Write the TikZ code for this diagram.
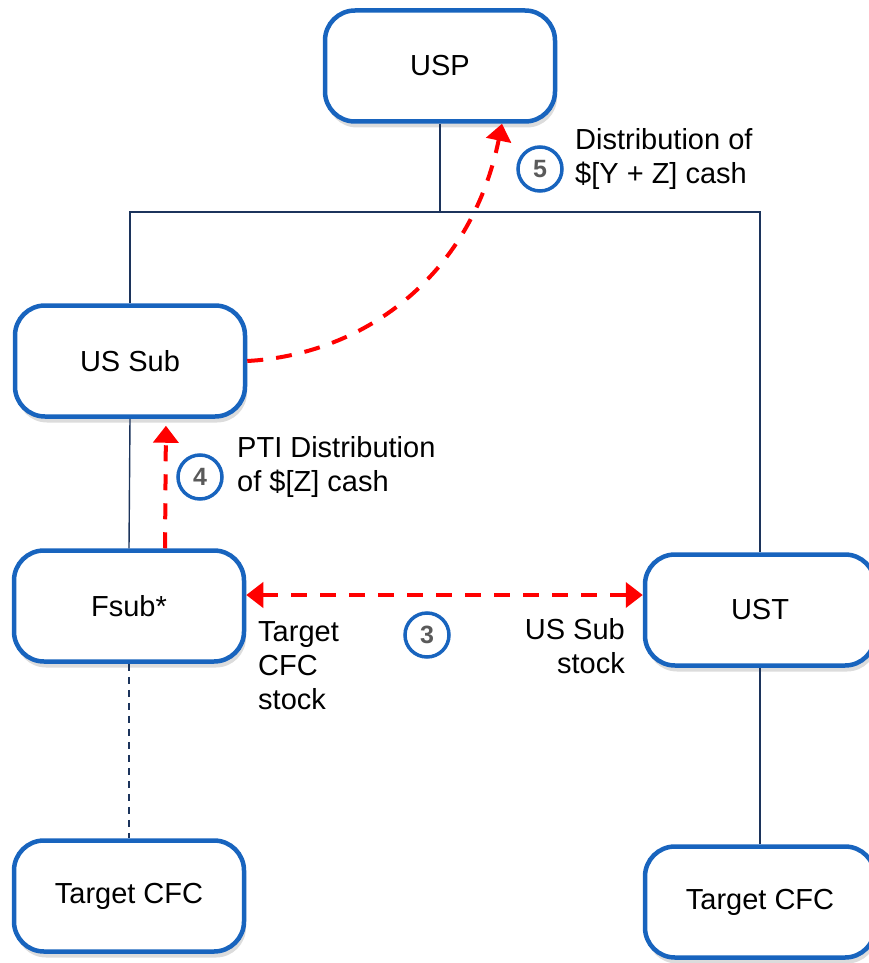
\documentclass[tikz,border=0pt]{standalone}
\usepackage{fontspec}
\setsansfont{Liberation Sans}
\usetikzlibrary{arrows.meta,calc,shadows}
\definecolor{boxblue}{RGB}{24,100,190}
\definecolor{linenavy}{RGB}{28,52,92}
\definecolor{numgray}{RGB}{90,90,90}

\begin{document}
\begin{tikzpicture}
    [ font=\sffamily\fontsize{29}{34}\selectfont, x=1pt, y=-1pt,
      entity/.style={draw=boxblue, line width=4.5pt, fill=white,
                     rounded corners=30pt, minimum width=230pt, minimum height=111pt,
                     drop shadow={shadow xshift=2pt, shadow yshift=-6pt, opacity=.28}},
      link/.style={draw=linenavy, line width=1.4pt},
      flow/.style={draw=red, line width=4pt, dash pattern=on 16pt off 13pt,
                   -{Triangle[width=25pt,length=17pt]}},
      numcirc/.style={circle, draw=boxblue, line width=3.5pt, minimum size=44pt,
                      inner sep=0pt, text=numgray,
                      font=\sffamily\bfseries\fontsize{25}{27}\selectfont},
      note/.style={align=left, inner sep=0pt},
    ]
    \useasboundingbox (0,0) rectangle (869,963);

    \node[entity] (usp) at (440,66) {USP};
    \node[entity] (ussub) at (130,361) {US Sub};
    \node[entity] (fsub) at (129,606) {Fsub*};
    \node[entity] (ust) at (760,610) {UST};
    \node[entity] (tcfcl) at (129,896) {Target CFC};
    \node[entity] (tcfcr) at (760,902) {Target CFC};

    % ownership lines
    \coordinate (bus) at (440,212);
    \draw[link] (usp.south) -- (bus);
    \draw[link] (ussub.north) |- (bus) -| (ust.north);
    \draw[link] (ussub.south) -- (fsub.north);
    \draw[link, line width=2pt, dash pattern=on 7pt off 6pt] (fsub.south) -- (tcfcl.north);
    \draw[link] (ust.south) -- (tcfcr.north);

    % steps
    \coordinate (uspin) at ($(usp.south)+(62,0)$);
    \draw[flow] (ussub.east) .. controls (360,355) and (470,280) .. (uspin);
    \draw[flow, shorten >=7pt] ($(fsub.north)+(36,0)$) -- ($(ussub.south)+(36,0)$);
    \coordinate (swapl) at ($(fsub.east)+(0,-11)$);
    \draw[flow, {Triangle[width=25pt,length=17pt]}-{Triangle[width=25pt,length=17pt]}]
        (swapl) -- (swapl -| ust.west);

    \foreach \n / \px / \py in {5/540/169, 4/200/477, 3/427/635} {
        \node[numcirc] (step\n) at (\px,\py) {\n};
    }

    \node[note, anchor=west] (lbl5) at (575,159) {Distribution of\\\$[Y + Z] cash};
    \node[note, anchor=west] (lbl4) at (237,467) {PTI Distribution\\of \$[Z] cash};
    \node[note, anchor=west] (lbl3l) at (258,666) {Target\\CFC\\stock};
    \node[note, anchor=east, align=right] (lbl3r) at (625,646) {US Sub\\stock};
\end{tikzpicture}
\end{document}
